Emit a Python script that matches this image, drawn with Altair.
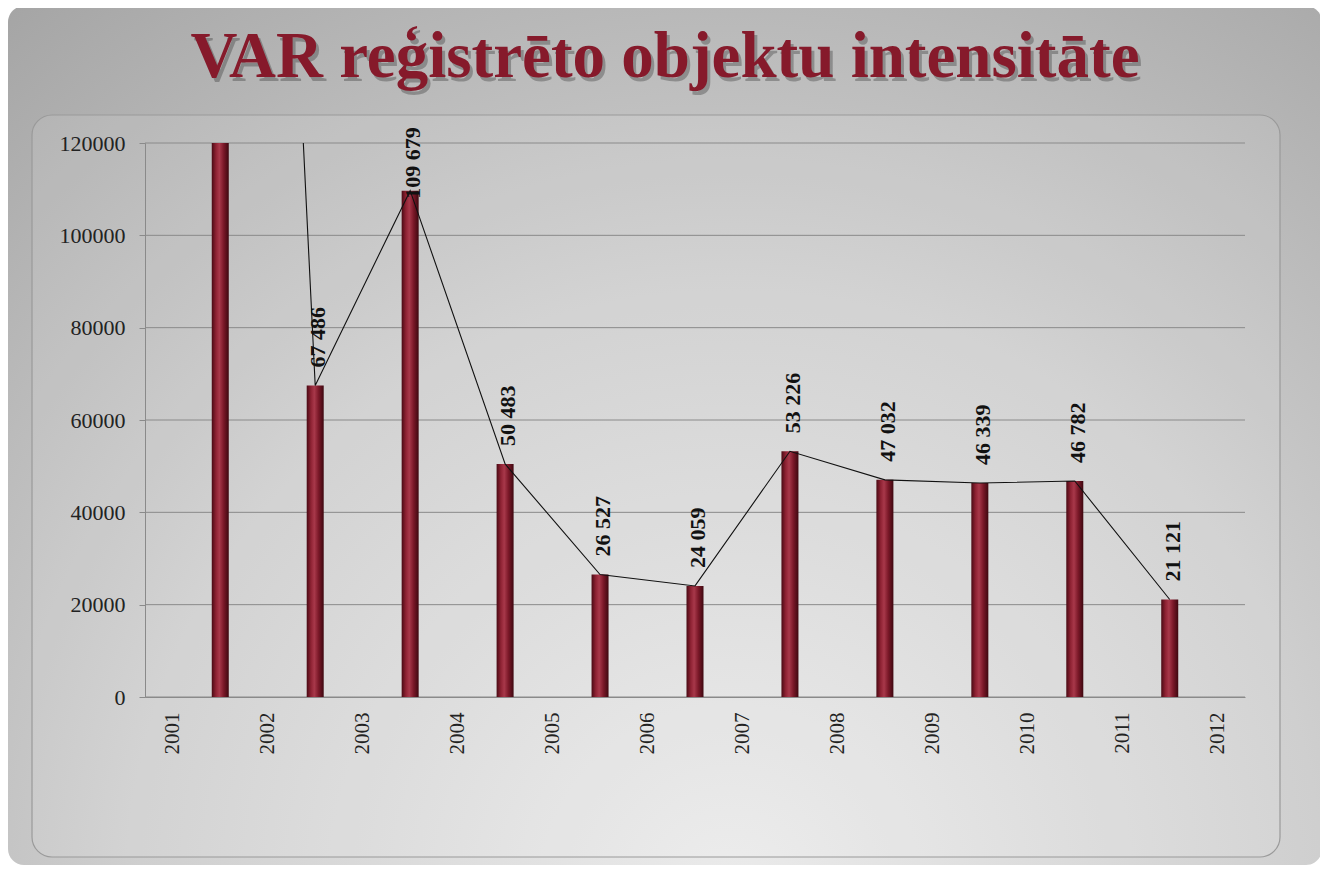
import altair as alt
import pandas as pd

# ---- data ----
years = [2001, 2002, 2003, 2004, 2005, 2006, 2007, 2008, 2009, 2010, 2011]
values = [487000, 67486, 109679, 50483, 26527, 24059, 53226, 47032, 46339, 46782, 21121]
axis_years = [2001, 2002, 2003, 2004, 2005, 2006, 2007, 2008, 2009, 2010, 2011, 2012]
y_ticks = [0, 20000, 40000, 60000, 80000, 100000, 120000]
title_text = "VAR reģistrēto objektu intensitāte"

W, H = 1100, 554

df = pd.DataFrame({"year": years, "value": values})
df["pos"] = df["year"] + 0.5
grid_df = pd.DataFrame({"tick": y_ticks})
one = pd.DataFrame({"a": [0]})

xscale = alt.Scale(domain=[2000.76, 2012.24], nice=False, zero=False)
yscale = alt.Scale(domain=[0, 120000], nice=False)

# ---- decorations ----
outer_bg = alt.Chart(one).mark_rect(
    cornerRadius=16,
    fill=alt.RadialGradient(
        gradient="radial",
        stops=[alt.GradientStop(color="#ebebeb", offset=0),
               alt.GradientStop(color="#cfcfcf", offset=0.5),
               alt.GradientStop(color="#a2a2a2", offset=1)],
        x1=0.55, y1=0.85, r1=0, x2=0.55, y2=0.85, r2=0.9),
).encode(x=alt.value(-137), x2=alt.value(1177), y=alt.value(-137), y2=alt.value(722))

inner_frame = alt.Chart(one).mark_rect(
    cornerRadius=20, fill="#ffffff", fillOpacity=0.1, stroke="#9a9a9a", strokeWidth=1.2
).encode(x=alt.value(-113), x2=alt.value(1135), y=alt.value(-28), y2=alt.value(714))

grid = alt.Chart(grid_df).mark_rule(color="#8a8a8a", strokeWidth=1).encode(
    y=alt.Y("tick:Q", scale=yscale)
)

bar_fill = alt.LinearGradient(
    gradient="linear",
    stops=[alt.GradientStop(color="#4a0a14", offset=0),
           alt.GradientStop(color="#8e2233", offset=0.25),
           alt.GradientStop(color="#a8384a", offset=0.45),
           alt.GradientStop(color="#7a1828", offset=0.7),
           alt.GradientStop(color="#3e0810", offset=1)],
    x1=0, x2=1, y1=0, y2=0)

bars = alt.Chart(df).mark_bar(size=17, fill=bar_fill, clip=True).encode(
    x=alt.X("pos:Q", scale=xscale,
            axis=alt.Axis(values=axis_years, format="d", labelAngle=-90, grid=False,
                          ticks=False, domain=True, domainColor="#8a8a8a",
                          labelFont="Liberation Serif", labelFontSize=21, labelColor="#222222",
                          labelPadding=15, title=None, zindex=1)),
    y=alt.Y("value:Q", scale=yscale,
            axis=alt.Axis(values=y_ticks, format="d", grid=False, ticks=True, tickSize=6,
                          tickColor="#8a8a8a", domain=True, domainColor="#8a8a8a",
                          labelFont="Liberation Serif", labelFontSize=22, labelColor="#222222",
                          labelPadding=14, title=None, zindex=1)),
)

line = alt.Chart(df).mark_line(color="#111111", strokeWidth=1.1, clip=True).encode(
    x=alt.X("pos:Q", scale=xscale),
    y=alt.Y("value:Q", scale=yscale),
)

labels = alt.Chart(df).transform_filter(
    "datum.value <= 120000"
).transform_calculate(
    label="replace(format(datum.value, ','), ',', ' ')",
    ly="min(datum.value, 104000)",
).mark_text(
    angle=270, align="left", baseline="middle", dx=18, dy=3,
    font="Liberation Serif", fontSize=22, fontWeight="bold", color="#111111"
).encode(
    x=alt.X("pos:Q", scale=xscale),
    y=alt.Y("ly:Q", scale=yscale),
    text="label:N",
)

title_shadow = alt.Chart(one).mark_text(
    text=title_text, font="Liberation Serif", fontSize=65, fontWeight="bold",
    color="#000000", opacity=0.25, align="center", baseline="alphabetic", dx=3, dy=4
).encode(x=alt.value(520), y=alt.value(-66))

title = alt.Chart(one).mark_text(
    text=title_text, font="Liberation Serif", fontSize=65, fontWeight="bold",
    color="#861a2b", align="center", baseline="alphabetic"
).encode(x=alt.value(520), y=alt.value(-66))

chart = alt.layer(
    outer_bg, inner_frame, grid, bars, line, labels, title_shadow, title
).properties(
    width=W, height=H,
    autosize=alt.AutoSizeParams(type="none"),
    padding={"left": 137, "top": 135, "right": 75, "bottom": 168},
    background="#ffffff",
).configure_view(stroke=None)

chart.save("out.html", embed_options={"renderer": "svg", "actions": False})
